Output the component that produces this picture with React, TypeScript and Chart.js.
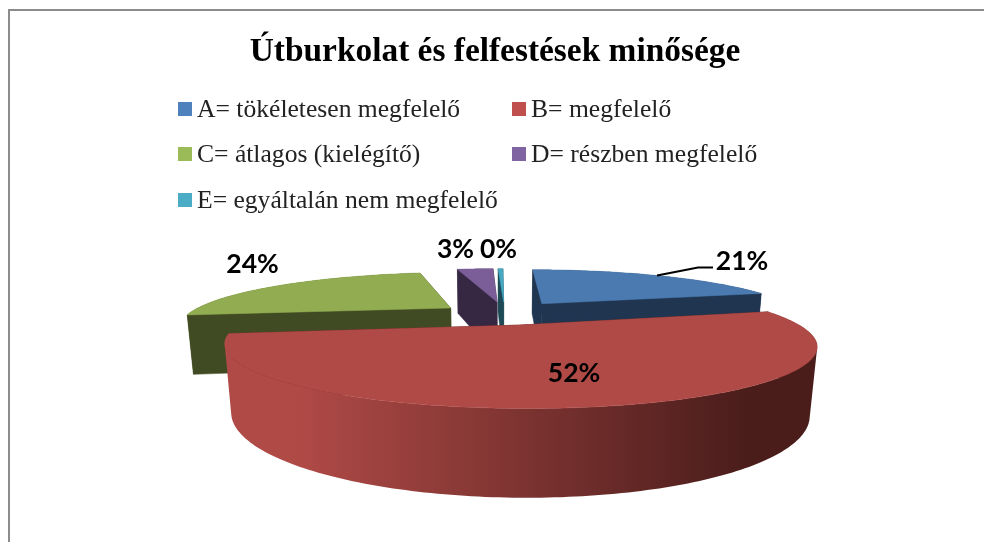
import React, { useEffect, useRef } from "react";
import { Chart, registerables } from "chart.js";

Chart.register(...registerables);

// ---- data -------------------------------------------------------------
const chartTitle = "Útburkolat és felfestések minősége";
const categories = [
  "A= tökéletesen megfelelő",
  "B= megfelelő",
  "C= átlagos (kielégítő)",
  "D= részben megfelelő",
  "E= egyáltalán nem megfelelő",
];
const shares = [21, 52, 24, 3, 0.4];

// ---- style ------------------------------------------------------------
const swatchColors = ["#4f81bd", "#c0504d", "#9bbb59", "#8064a2", "#4bacc6"];
const topColors = ["#4a7ab0", "#b04a47", "#92ad51", "#7b5e97", "#45a9c4"];
const wallColors = ["#1f3550", "#4a1d1b", "#414b23", "#362843", "#1e4a56"];
// how far each slice is pulled out of the pie, in units of the pie radius
const explodeX = [0.17, 0.067, -0.195, -0.012, 0.015];
const explodeY = [0.2, -0.23, 0.105, 0.24, 0.24];
const paintOrder = [3, 4, 2, 0, 1];

const camera = { x: 500, y: 313, f: 261, g: 49, h: 60, w: 0.3, t: 0.02 };
const legendLayout = { col: [178, 512], row: [109, 154, 200], size: 14, gap: 5, textDrop: 1.5 };
const labelLayout = [
  { x: 742, y: 261 },
  { x: 574, y: 373 },
  { x: 252.5, y: 264.5 },
  { x: 455.5, y: 249.5 },
  { x: 498.5, y: 249.5 },
];
const leaderElbow = [
  { x: 698, y: 267.5 },
  { x: 713, y: 267.5 },
];

function project(X: number, Y: number, Z: number) {
  const d = 1 + camera.w * Y + camera.t * Z;
  return {
    x: camera.x + (camera.f * X) / d,
    y: camera.y + (-camera.g * Y + camera.h * Z) / d,
  };
}

type P = { x: number; y: number };

function tracePoly(ctx: CanvasRenderingContext2D, pts: P[]) {
  pts.forEach((p, i) => (i ? ctx.lineTo(p.x, p.y) : ctx.moveTo(p.x, p.y)));
  ctx.closePath();
}

function fillPoly(ctx: CanvasRenderingContext2D, pts: P[], fill: any) {
  ctx.beginPath();
  tracePoly(ctx, pts);
  ctx.fillStyle = fill;
  ctx.fill();
  ctx.strokeStyle = fill;
  ctx.lineWidth = 0.5;
  ctx.stroke();
}

function signedArea(pts: P[]) {
  let sum = 0;
  pts.forEach((p, i) => {
    const q = pts[(i + 1) % pts.length];
    sum += p.x * q.y - q.x * p.y;
  });
  return sum;
}

const pie3d = {
  id: "pie3d",
  beforeDatasetDraw() {
    return false; // the flat arcs are replaced by their projected solids
  },
  afterDatasetsDraw(chart: any) {
    const ctx: CanvasRenderingContext2D = chart.ctx;
    const arcs = chart.getDatasetMeta(0).data;
    paintOrder.forEach((i) => {
      const arc = arcs[i];
      const ex = explodeX[i];
      const ey = explodeY[i];
      const steps = Math.max(2, Math.ceil(((arc.endAngle - arc.startAngle) * 180) / Math.PI));
      const rim: { X: number; Y: number }[] = [];
      for (let s = 0; s <= steps; s++) {
        const a = arc.startAngle + ((arc.endAngle - arc.startAngle) * s) / steps;
        rim.push({ X: ex + Math.cos(a), Y: ey - Math.sin(a) });
      }
      const rimTop = rim.map((r) => project(r.X, r.Y, 0));
      const rimBottom = rim.map((r) => project(r.X, r.Y, 1));
      const apexTop = project(ex, ey, 0);
      const apexBottom = project(ex, ey, 1);
      const last = rim.length - 1;

      // cut faces
      fillPoly(ctx, [apexTop, rimTop[0], rimBottom[0], apexBottom], wallColors[i]);
      fillPoly(ctx, [apexTop, rimTop[last], rimBottom[last], apexBottom], wallColors[i]);

      // outer wall: one path of equally wound strips, so the fold at the
      // silhouette stays filled and no seams show between strips
      let wallFill: any = wallColors[i];
      if (i === 1) {
        const xs = rimTop.map((p) => p.x);
        const g = ctx.createLinearGradient(Math.min(...xs), 0, Math.max(...xs), 0);
        g.addColorStop(0, topColors[i]);
        g.addColorStop(0.12, topColors[i]);
        g.addColorStop(0.88, wallColors[i]);
        g.addColorStop(1, wallColors[i]);
        wallFill = g;
      }
      ctx.beginPath();
      for (let s = 0; s < last; s++) {
        const quad = [rimTop[s], rimTop[s + 1], rimBottom[s + 1], rimBottom[s]];
        tracePoly(ctx, signedArea(quad) < 0 ? quad.reverse() : quad);
      }
      ctx.fillStyle = wallFill;
      ctx.fill("nonzero");

      // top surface
      fillPoly(ctx, [apexTop, ...rimTop], topColors[i]);
    });
  },
  afterDraw(chart: any) {
    const ctx: CanvasRenderingContext2D = chart.ctx;
    const arcs = chart.getDatasetMeta(0).data;
    const labels: string[] = chart.data.labels;
    const colors: string[] = chart.data.datasets[0].backgroundColor;
    const values: number[] = chart.data.datasets[0].data;
    const total = values.reduce((a, b) => a + b, 0);

    // frame
    ctx.save();
    ctx.strokeStyle = "#8c8c8c";
    ctx.lineWidth = 2;
    ctx.beginPath();
    ctx.moveTo(9, 542);
    ctx.lineTo(9, 10);
    ctx.lineTo(984, 10);
    ctx.stroke();

    // legend
    ctx.font = '25.6px "Liberation Serif"';
    ctx.textBaseline = "middle";
    ctx.textAlign = "left";
    labels.forEach((text, i) => {
      const x = legendLayout.col[i % 2];
      const y = legendLayout.row[Math.floor(i / 2)];
      ctx.fillStyle = colors[i];
      ctx.fillRect(x, y - legendLayout.size / 2, legendLayout.size, legendLayout.size);
      ctx.fillStyle = "#222222";
      ctx.fillText(text, x + legendLayout.size + legendLayout.gap, y + legendLayout.textDrop);
    });

    // leader from the middle of the first slice's rim to its label
    const a0 = arcs[0];
    const mid = (a0.startAngle + a0.endAngle) / 2;
    const rimPoint = project(explodeX[0] + Math.cos(mid), explodeY[0] - Math.sin(mid), 0);
    ctx.strokeStyle = "#000000";
    ctx.lineWidth = 2;
    ctx.beginPath();
    ctx.moveTo(rimPoint.x, rimPoint.y);
    leaderElbow.forEach((p) => ctx.lineTo(p.x, p.y));
    ctx.stroke();

    // percentage labels
    ctx.font = 'bold 26.5px Lato';
    ctx.textAlign = "center";
    ctx.fillStyle = "#000000";
    values.forEach((v, i) => {
      ctx.fillText(`${Math.round((v / total) * 100)}%`, labelLayout[i].x, labelLayout[i].y);
    });
    ctx.restore();
  },
};

export default function App() {
  const ref = useRef<HTMLCanvasElement | null>(null);
  useEffect(() => {
    const chart = new Chart(ref.current as HTMLCanvasElement, {
      type: "pie",
      data: {
        labels: categories,
        datasets: [{ data: shares, backgroundColor: swatchColors, borderWidth: 0 }],
      },
      options: {
        animation: false,
        responsive: false,
        layout: { padding: { left: 6 } },
        plugins: {
          legend: { display: false },
          tooltip: { enabled: false },
          title: {
            display: true,
            text: chartTitle,
            color: "#000000",
            font: { family: '"Liberation Serif"', size: 33.4, weight: "bold" },
            padding: { top: 32, bottom: 10 },
          },
        },
      },
      plugins: [pie3d],
    } as any);
    return () => chart.destroy();
  }, []);
  return (
    <canvas
      ref={ref}
      width={984}
      height={542}
      style={{ position: "absolute", left: 0, top: 0, background: "#ffffff" }}
    />
  );
}
